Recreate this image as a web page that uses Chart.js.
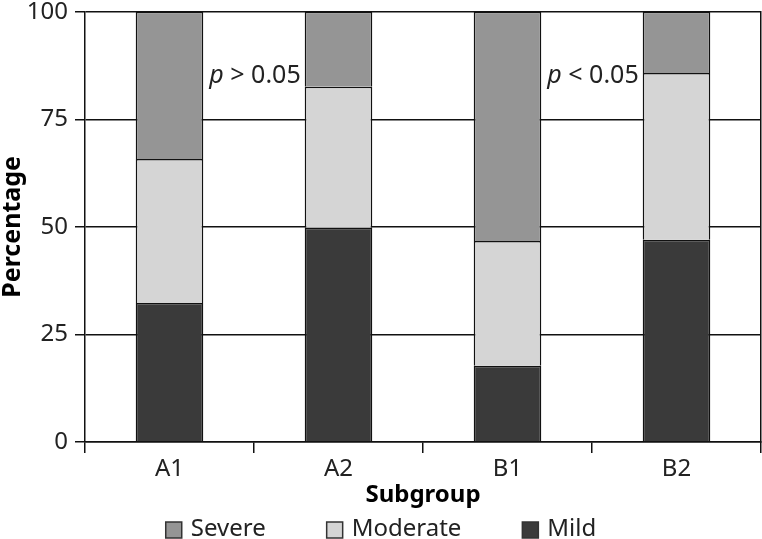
<!DOCTYPE html>
<html>
<head>
<meta charset="utf-8">
<script src="https://cdn.jsdelivr.net/npm/chart.js@4"></script>
<style>
  html, body { margin: 0; padding: 0; background: #fff; }
  #wrap { width: 762px; height: 539px; }
</style>
</head>
<body>
<div id="wrap"><canvas id="chart"></canvas></div>
<script>
// values (percent)
const subgroups = ['A1', 'A2', 'B1', 'B2'];
const mild = [32.3, 49.8, 17.7, 47.0];
const moderate = [33.5, 32.8, 29.0, 38.8];
const severe = [34.2, 17.4, 53.3, 14.2];
const yTicks = [0, 25, 50, 75, 100];
// p-value notes, put left of the second bar of each pair
const notes = [
    {text: '> 0.05', index: 1, y: 85},
    {text: '< 0.05', index: 3, y: 85}
];

const FONT = "'Noto Sans', sans-serif";

const notePlugin = {
    id: 'notes',
    afterDatasetsDraw(chart) {
        const ctx = chart.ctx;
        const ys = chart.scales.y;
        const bars = chart.getDatasetMeta(0).data;
        ctx.save();
        ctx.fillStyle = '#222';
        ctx.textBaseline = 'middle';
        ctx.textAlign = 'right';
        notes.forEach(n => {
            const el = bars[n.index];
            const right = el.x - el.width / 2 - 4;
            const y = ys.getPixelForValue(n.y);
            ctx.font = '25px ' + FONT;
            const w = ctx.measureText(' ' + n.text).width;
            ctx.fillText(' ' + n.text, right, y);
            ctx.font = 'italic 25px ' + FONT;
            ctx.fillText('p', right - w, y);
        });
        ctx.restore();
    }
};

// legend drawn by hand so the gaps between items can be wide
const legendPlugin = {
    id: 'wideLegend',
    afterDraw(chart) {
        const ctx = chart.ctx;
        const items = chart.data.datasets.slice().reverse();
        const box = 16, textGap = 9, itemGap = 61;
        ctx.save();
        ctx.font = '24px ' + FONT;
        const widths = items.map(d => box + textGap + ctx.measureText(d.label).width);
        const total = widths.reduce((a, b) => a + b, 0) + itemGap * (items.length - 1);
        let x = (chart.width - total) / 2;
        const y = chart.height - 10;
        items.forEach((d, i) => {
            ctx.fillStyle = d.backgroundColor;
            ctx.fillRect(x, y - box / 2 + 1, box, box);
            ctx.strokeStyle = '#333';
            ctx.lineWidth = 1.5;
            ctx.strokeRect(x, y - box / 2 + 1, box, box);
            ctx.fillStyle = '#222';
            ctx.textBaseline = 'middle';
            ctx.textAlign = 'left';
            ctx.fillText(d.label, x + box + textGap, y);
            x += widths[i] + itemGap;
        });
        ctx.restore();
    }
};

const common = {borderColor: '#111', borderWidth: 1.5, barPercentage: 0.4, categoryPercentage: 1};

new Chart(document.getElementById('chart'), {
    type: 'bar',
    data: {
        labels: subgroups,
        datasets: [
            Object.assign({label: 'Mild', data: mild, backgroundColor: '#3a3a3a'}, common),
            Object.assign({label: 'Moderate', data: moderate, backgroundColor: '#d5d5d5'}, common),
            Object.assign({label: 'Severe', data: severe, backgroundColor: '#959595'}, common)
        ]
    },
    options: {
        responsive: true,
        maintainAspectRatio: false,
        animation: false,
        layout: {padding: {top: 0, right: 1, left: 0, bottom: 29}},
        plugins: {
            tooltip: {enabled: false},
            legend: {display: false}
        },
        scales: {
            x: {
                stacked: true,
                afterFit(scale) { scale.height = 68; },
                grid: {display: true, drawOnChartArea: false, drawTicks: true, tickLength: 11, color: '#111', lineWidth: 1.5, offset: true},
                border: {display: true, color: '#111', width: 1.5},
                ticks: {color: '#222', font: {family: FONT, size: 24, lineHeight: 1.2}, padding: 2},
                title: {display: true, text: 'Subgroup', color: '#000', font: {family: FONT, size: 24, weight: 'bold', lineHeight: 1.2}, padding: {top: 0, bottom: 0}}
            },
            y: {
                stacked: true,
                min: 0,
                max: 100,
                afterBuildTicks(scale) { scale.ticks = yTicks.map(v => ({value: v})); },
                afterFit(scale) { scale.width = 85; },
                grid: {color: '#111', lineWidth: 1.5, tickLength: 10},
                border: {display: true, color: '#111', width: 1.5},
                // small lineHeight keeps the top label from pushing the plot down
                ticks: {color: '#222', font: {family: FONT, size: 24, lineHeight: 0.4}, padding: 7},
                title: {display: true, text: 'Percentage', color: '#000', font: {family: FONT, size: 25, weight: 'bold', lineHeight: 1}, padding: {top: 0, bottom: 0}}
            },
            y2: {
                position: 'right',
                min: 0,
                max: 100,
                afterFit(scale) { scale.width = 0; },
                grid: {display: false},
                ticks: {display: false},
                border: {display: true, color: '#111', width: 1.5}
            }
        }
    },
    plugins: [notePlugin, legendPlugin]
});
</script>
</body>
</html>
